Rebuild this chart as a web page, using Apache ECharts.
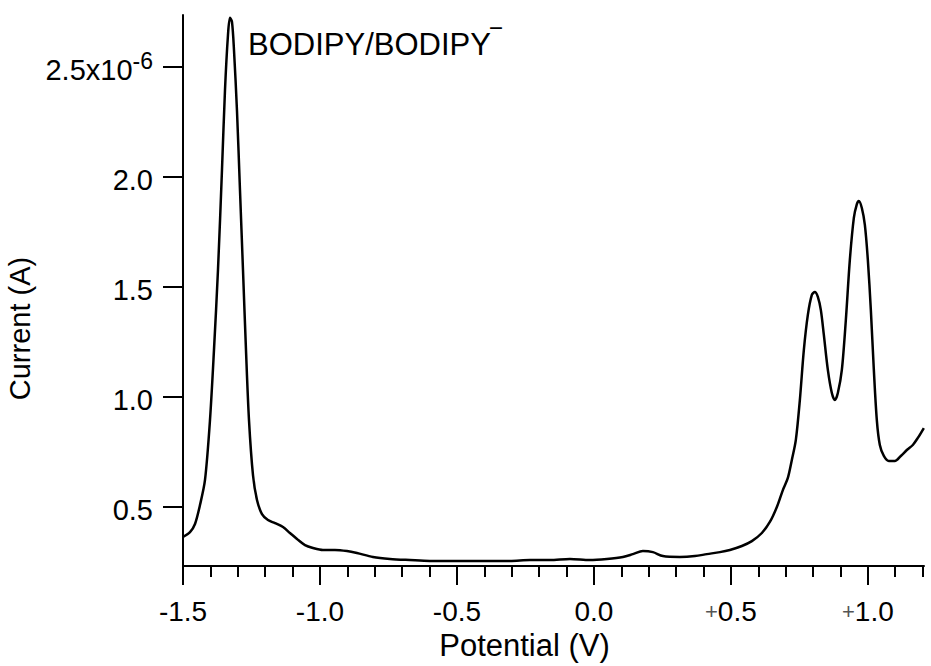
<!DOCTYPE html>
<html>
<head>
<meta charset="utf-8">
<script src="https://cdn.jsdelivr.net/npm/echarts@6/dist/echarts.min.js"></script>
<style>
html,body{margin:0;padding:0;background:#fff;}
#chart{width:931px;height:666px;}
</style>
</head>
<body>
<div id="chart"></div>
<script>
// Potential (V)
const potential = [-1.5,-1.4745,-1.4562,-1.438,-1.4197,-1.4015,-1.3869,-1.3723,-1.3577,-1.3467,-1.3358,-1.3285,-1.3212,-1.3139,-1.3029,-1.292,-1.281,-1.2701,-1.2591,-1.2445,-1.2299,-1.2117,-1.1898,-1.1642,-1.135,-1.1095,-1.0839,-1.0547,-1.0255,-0.9891,-0.9453,-0.9015,-0.865,-0.8066,-0.7445,-0.6715,-0.5985,-0.5255,-0.4526,-0.3796,-0.3066,-0.2336,-0.1606,-0.0876,-0.0146,0.0474,0.1058,0.1423,0.1788,0.2153,0.2518,0.3139,0.3686,0.4124,0.4599,0.4964,0.5401,0.5766,0.6131,0.6423,0.6679,0.6898,0.708,0.7226,0.7372,0.7518,0.7664,0.781,0.7956,0.8066,0.8175,0.8285,0.8394,0.854,0.8686,0.8796,0.8905,0.9051,0.9197,0.9343,0.9489,0.9599,0.9672,0.9781,0.9891,1.0,1.011,1.0219,1.0328,1.0438,1.0584,1.0766,1.0985,1.1204,1.1423,1.1642,1.1825,1.2044];
// Current (x1e-6 A)
const current = [0.364,0.386,0.423,0.509,0.623,0.895,1.214,1.577,2.032,2.395,2.645,2.723,2.705,2.577,2.3,1.941,1.577,1.214,0.895,0.645,0.532,0.468,0.441,0.427,0.409,0.382,0.355,0.327,0.314,0.305,0.305,0.3,0.291,0.273,0.264,0.259,0.255,0.255,0.255,0.255,0.255,0.259,0.259,0.264,0.259,0.264,0.273,0.286,0.3,0.295,0.277,0.273,0.277,0.286,0.295,0.305,0.323,0.345,0.382,0.432,0.5,0.577,0.632,0.714,0.805,0.986,1.214,1.373,1.464,1.477,1.455,1.395,1.282,1.123,1.018,0.986,1.018,1.123,1.35,1.623,1.814,1.877,1.891,1.859,1.782,1.623,1.395,1.123,0.895,0.782,0.732,0.709,0.709,0.732,0.759,0.782,0.814,0.859];

const xMajorTicks = [-1.5,-1.0,-0.5,0.0,0.5,1.0];
const xMinorTicks = [-1.4,-1.3,-1.2,-1.1,-0.9,-0.8,-0.7,-0.6,-0.4,-0.3,-0.2,-0.1,0.1,0.2,0.3,0.4,0.6,0.7,0.8,0.9,1.1,1.2];
const yTicks = [0.5,1.0,1.5,2.0,2.5];
const annotationText = 'BODIPY/BODIPY';

const FONT = '"Liberation Sans", Arial, Helvetica, sans-serif';
const chart = echarts.init(document.getElementById('chart'), null, {renderer:'svg'});

const data = potential.map((p,i)=>[p,current[i]]);

chart.setOption({
  animation:false,
  backgroundColor:'#fff',
  textStyle:{fontFamily:FONT},
  grid:{left:183,right:7,top:15,bottom:100,containLabel:false,outerBoundsMode:'none'},
  xAxis:[{
    type:'value',min:-1.5,max:1.205,
    position:'bottom',
    name:'Potential (V)',nameLocation:'middle',nameGap:59,
    nameTextStyle:{fontFamily:FONT,fontSize:31,color:'#000',padding:[0,58,0,0]},
    axisLine:{show:true,onZero:false,lineStyle:{color:'#000',width:2}},
    axisTick:{show:true,inside:false,length:19,customValues:xMajorTicks,lineStyle:{color:'#000',width:2}},
    axisLabel:{show:true,margin:31,customValues:xMajorTicks,fontFamily:FONT,fontSize:28,color:'#000',
      formatter:function(v){return v>0?'{p|+}'+v.toFixed(1):v.toFixed(1);},
      rich:{p:{fontSize:22,color:'#555',fontFamily:FONT}}},
    splitLine:{show:false}
  },{
    type:'value',min:-1.5,max:1.205,position:'bottom',
    axisLine:{show:false},
    axisTick:{show:true,inside:false,length:11,customValues:xMinorTicks,lineStyle:{color:'#000',width:2}},
    axisLabel:{show:false},splitLine:{show:false}
  }],
  yAxis:{
    type:'value',min:0.232,max:2.736,
    name:'Current (A)',nameLocation:'middle',nameGap:138,nameRotate:90,
    nameTextStyle:{fontFamily:FONT,fontSize:29,color:'#000',padding:[0,76,0,0]},
    axisLine:{show:true,onZero:false,lineStyle:{color:'#000',width:2}},
    axisTick:{show:true,inside:false,length:20,customValues:yTicks,lineStyle:{color:'#000',width:2}},
    axisLabel:{show:true,margin:30,customValues:yTicks,fontFamily:FONT,fontSize:29,color:'#000',
      formatter:function(v){return Math.abs(v-2.5)<1e-9?'{b|2.5x10}{s|-6}':'{b|'+v.toFixed(1)+'}';},
      rich:{b:{fontSize:29,lineHeight:35,fontFamily:FONT,color:'#000',verticalAlign:'bottom'},
            s:{fontSize:23,lineHeight:23,fontFamily:FONT,color:'#000',verticalAlign:'top'}}},
    splitLine:{show:false}
  },
  graphic:[{
    type:'text',left:248,top:25,
    style:{
      text:'{m|'+annotationText+'}{s|\u203E}',
      rich:{m:{fontSize:31,lineHeight:35,fontFamily:FONT,fill:'#000',verticalAlign:'bottom'},
            s:{fontSize:30,lineHeight:30,fontFamily:FONT,fill:'#000',verticalAlign:'top'}}
    }
  }],
  series:[{
    type:'line',xAxisIndex:0,yAxisIndex:0,data:data,
    showSymbol:false,smooth:0.3,
    lineStyle:{color:'#000',width:2.5},
    z:5
  }]
});
</script>
</body>
</html>
